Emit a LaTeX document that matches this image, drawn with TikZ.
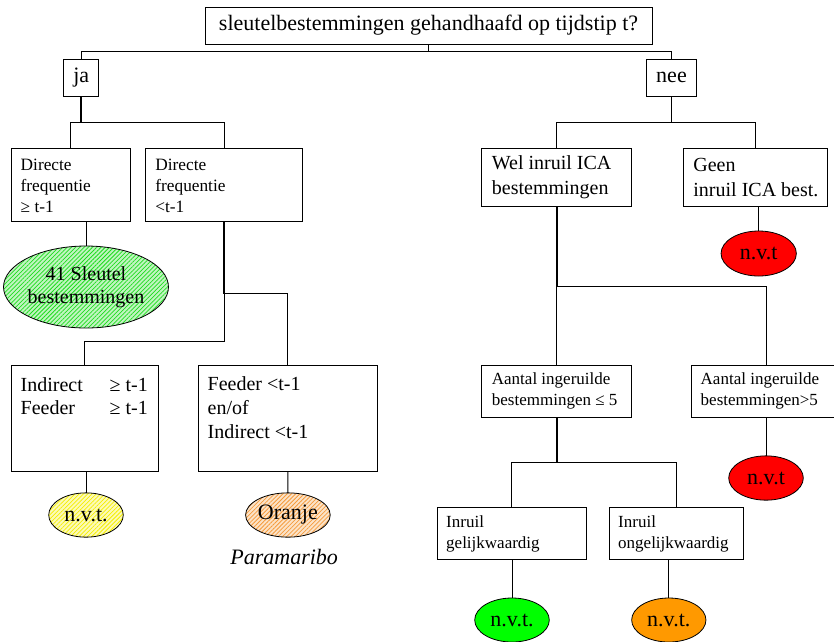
\documentclass[tikz,border=0pt]{standalone}
\usepackage{fontspec}
\setmainfont{Liberation Serif}
\usetikzlibrary{shapes.geometric,patterns.meta}
\definecolor{hgreen}{RGB}{30,220,30}
\definecolor{hyellow}{RGB}{245,238,0}
\definecolor{horange}{RGB}{245,155,60}
\definecolor{sgreen}{RGB}{0,255,0}
\definecolor{sorange}{RGB}{255,153,0}
\definecolor{sred}{RGB}{255,0,0}
\begin{document}
\begin{tikzpicture}[x=1pt,y=-1pt,
  box/.style={draw, line width=0.9pt, rectangle, inner sep=0pt, anchor=north west, outer sep=0pt},
  cbox/.style={box, align=center, font=\fontsize{22}{26}\selectfont},
  txt/.style={anchor=west, inner sep=0pt, align=left},
  ttxt/.style={anchor=north west, inner sep=0pt, align=left},
  oval/.style={draw, line width=0.8pt, ellipse, inner sep=0pt, align=center, outer sep=0pt, font=\fontsize{22}{26}\selectfont},
  hatch/.style={preaction={fill=#1!28}, pattern={Lines[angle=45,distance=3pt,line width=0.75pt]}, pattern color=#1},
  conn/.style={line width=0.9pt},
  trunk/.style={line width=2pt},
  fA/.style={font=\fontsize{17.3}{20.7}\selectfont},
  fB/.style={font=\fontsize{20}{25}\selectfont},
  fC/.style={font=\fontsize{17}{21}\selectfont}
]
\useasboundingbox (0,0) rectangle (834,641);

% title and first level
\node[cbox, minimum width=447, minimum height=37] (title) at (205,7) {sleutelbestemmingen gehandhaafd op tijdstip t?};
\node[cbox, minimum width=35, minimum height=37] (ja) at (63.7,59) {ja};
\node[cbox, minimum width=50.4, minimum height=37] (nee) at (646.3,59) {nee};

% left branch
\node[box, minimum width=119.7, minimum height=73] (d1) at (11,148.3) {};
\node[txt, fA] (d1t) at ([xshift=9.5pt,yshift=-1pt]d1.west) {Directe\\frequentie\\≥ t-1};
\node[box, minimum width=157, minimum height=73] (d2) at (145.7,148.3) {};
\node[txt, fA] (d2t) at ([xshift=9.5pt,yshift=-1pt]d2.west) {Directe\\frequentie\\<t-1};
\node[oval, font=\fontsize{20}{23}\selectfont, minimum width=148.7, minimum height=82, hatch=hgreen] (g1) at (86,287) {41 Sleutel\\bestemmingen};

\node[box, minimum width=147, minimum height=106] (ind) at (11,365.3) {};
\node[ttxt, font=\fontsize{20}{23.3}\selectfont] (indt) at ([xshift=9.5pt,yshift=-12pt]ind.north west) {\makebox[89pt][l]{Indirect}≥ t-1\\\makebox[89pt][l]{Feeder}≥ t-1};
\node[box, minimum width=179.7, minimum height=106] (fee) at (198,365.3) {};
\node[ttxt, font=\fontsize{20}{24}\selectfont] (feet) at ([xshift=9.5pt,yshift=-11pt]fee.north west) {Feeder <t-1\\en/of\\Indirect <t-1};

\node[oval, minimum width=74.6, minimum height=44.3, hatch=hyellow] (y1) at (86,515) {n.v.t.};
\node[oval, minimum width=74.3, minimum height=44.3, hatch=horange] (o1) at (287.9,515) {Oranje};
\node[font=\fontsize{22}{26}\selectfont\itshape, inner sep=0pt] (par) at (284.2,556.7) {Paramaribo};

% right branch
\node[box, minimum width=150, minimum height=58] (wel) at (481.7,148.3) {};
\node[txt, fB] (welt) at ([xshift=10pt,yshift=0pt]wel.west) {Wel inruil ICA\\bestemmingen};
\node[box, minimum width=144, minimum height=58] (geen) at (683.7,148.3) {};
\node[txt, fB] (geent) at ([xshift=9.5pt,yshift=0pt]geen.west) {Geen\\inruil ICA best.};
\node[oval, minimum width=75.3, minimum height=45, fill=sred] (r1) at (758.7,253.5) {n.v.t};

\node[box, minimum width=150, minimum height=52] (a5) at (481.7,365.3) {};
\node[txt, fC] (a5t) at ([xshift=10pt,yshift=0pt]a5.west) {Aantal ingeruilde\\bestemmingen ≤ 5};
\node[box, minimum width=150.6, minimum height=52] (b5) at (691,365.3) {};
\node[txt, fC] (b5t) at ([xshift=9.5pt,yshift=0pt]b5.west) {Aantal ingeruilde\\bestemmingen>5};
\node[oval, minimum width=74.6, minimum height=44.3, fill=sred] (r2) at (766,478) {n.v.t};

\node[box, minimum width=149.3, minimum height=51.6] (gel) at (437,507.7) {};
\node[txt, fC] (gelt) at ([xshift=9pt,yshift=0pt]gel.west) {Inruil\\gelijkwaardig};
\node[box, minimum width=134.7, minimum height=51.6] (ong) at (609,507.7) {};
\node[txt, fC] (ongt) at ([xshift=9pt,yshift=0pt]ong.west) {Inruil\\ongelijkwaardig};
\node[oval, minimum width=74.6, minimum height=44, fill=sgreen] (g2) at (512,620) {n.v.t.};
\node[oval, minimum width=74.3, minimum height=44, fill=sorange] (o2) at (668.8,620) {n.v.t.};

% connectors
\draw[conn] (title.south) -- ++(0,7);
\draw[conn] (ja.north) -- ++(0,-8) -| (nee.north);

\draw[trunk] (ja.south) -- ++(0,26);
\draw[conn] (d1.north) -- ++(0,-26) -| (d2.north);
\draw[conn] (g1.north |- d1.south) -- (g1.north);
\draw[trunk] (d2.south) -- ++(0,72.3);
\draw[conn] (d2.south) ++(0,72.3) -| (fee.north);
\draw[conn] (d2.south) ++(0,71.3) -- ++(0,48.7) -| (ind.north);
\draw[conn] (y1.north |- ind.south) -- (y1.north);
\draw[conn] (fee.south) -- (o1.north);

\draw[conn] (nee.south) -- ++(0,26.3);
\draw[conn] (wel.north) -- ++(0,-26) -| (geen.north);
\draw[conn] (r1.north |- geen.south) -- (r1.north);
\draw[trunk] (wel.south) -- ++(0,79.7);
\draw[conn] (wel.south) ++(0,78.7) -- (a5.north);
\draw[conn] (wel.south) ++(0,79.7) -| (b5.north);
\draw[conn] (b5.south -| r2.north) -- (r2.north);
\draw[trunk] (a5.south) -- ++(0,45.4);
\draw[conn] (gel.north) -- ++(0,-45) -| (ong.north);
\draw[conn] (gel.south -| g2.north) -- (g2.north);
\draw[conn] (ong.south -| o2.north) -- (o2.north);
\end{tikzpicture}
\end{document}
